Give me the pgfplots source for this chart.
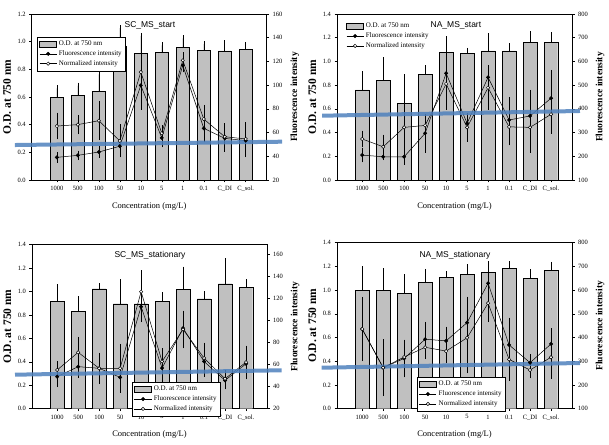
\documentclass[border=0pt]{standalone}
\usepackage{fontspec}
\setmainfont{Liberation Serif}
\newfontfamily\arial{Liberation Sans}
\usepackage{pgfplots}
\usepackage{pgfplotstable}
\pgfplotsset{compat=1.18}
\definecolor{barg}{RGB}{192,192,192}
\definecolor{blueln}{RGB}{79,129,189}

\pgfplotstableread{
x od ode fl fle nz nze
0 0.598 0.065 39.1 2.5 65.5 9.4
1 0.610 0.072 40.8 2.0 66.7 6
2 0.643 0.120 43.6 3.0 70.0 14.7
3 0.970 0.127 48.5 5 53.0 12
4 0.918 0.123 99.8 12.5 111.0 30
5 0.923 0.050 55.5 6 59.4 5
6 0.961 0.063 116.7 4 120.9 5
7 0.937 0.046 63.6 10 71.4 10
8 0.933 0.057 55.1 9.5 56.5 9.5
9 0.945 0.028 53.2 12 54.6 12
}\dataA

\pgfplotstableread{
x od ode fl fle nz nze
0 0.759 0.132 205 21 273 26
1 0.843 0.166 198 5 240 42
2 0.649 0.217 198 25 322 87
3 0.891 0.051 297 73 330 30
4 1.077 0.110 550 145 505 60
5 1.068 0.020 339 20 322 50
6 1.088 0.126 533 28 489 85
7 1.088 0.039 353 87 324 68
8 1.161 0.070 370 100 322 98
9 1.161 0.059 445 110 377 73
}\dataB

\pgfplotstableread{
x od ode fl fle nz nze
0 0.916 0.120 49.1 7.5 55.2 6
1 0.831 0.102 58.2 8 71.2 12
2 1.024 0.020 56.7 12 56.7 9
3 0.896 0.185 48.5 11 56.7 20
4 0.896 0.262 112.7 12 126.3 17
5 0.916 0.052 56.9 12 62.9 10
6 1.019 0.168 93.2 10 92.0 15
7 0.939 0.037 62.9 12 66.0 12
8 1.067 0.191 45.7 6 47.2 6
9 1.036 0.045 60.8 12 62.3 13
}\dataC

\pgfplotstableread{
x od ode fl fle nz nze
0 0.998 0.177 436 126 436 95
1 0.998 0.160 273 110 273 65
2 0.970 0.140 312 70 318 60
3 1.063 0.090 393 63 359 40
4 1.110 0.023 386 50 343 40
5 1.133 0.062 463 100 399 140
6 1.150 0.067 629 77 545 70
7 1.181 0.036 369 105 308 80
8 1.102 0.048 294 25 263 25
9 1.167 0.047 373 57 317 80
}\dataD

\pgfplotsset{
  base/.style={
    scale only axis, width=235pt,
    xmin=-1.2, xmax=10,
    tick align=outside, major tick length=2.5pt,
    tick style={black, line width=0.5pt},
    /pgf/number format/assume math mode=true,
    ticklabel style={font=\fontsize{6.5}{7}\selectfont},
    axis line style={line width=0.9pt},
  },
  leftax/.style={base,
    ymin=0,
    xtick={0,...,9},
    xticklabels={1000,500,100,50,10,5,1,0.1,C\_DI,C\_sol.},
    xtick pos=bottom, ytick pos=left,
    yticklabel style={/pgf/number format/.cd, fixed, fixed zerofill, precision=1},
    xlabel={Concentration (mg/L)},
    ylabel={O.D. at 750 nm},
    xlabel style={font=\fontsize{8.5}{9}\selectfont, at={(axis description cs:0.5,-0.158)}, anchor=center},
    ylabel style={font=\bfseries\fontsize{11.5}{12}\selectfont, at={(axis description cs:-0.105,0.5)}, anchor=center},
  },
  rightax/.style={base,
    axis y line*=right, axis x line=none, clip=false,
    ylabel={Fluorescence intensity},
    ylabel style={font=\bfseries\fontsize{9.5}{10}\selectfont, at={(axis description cs:1.12,0.5)}, anchor=center, rotate=0},
    legend cell align=left,
    legend style={font=\fontsize{7}{7}\selectfont, row sep=-0.5pt, inner sep=2pt, draw=black, line width=0.5pt},
  },
  barplot/.style={ybar, bar width=0.64, fill=barg, draw=black, line width=0.4pt,
    error bars/.cd, y dir=plus, y explicit,
    error bar style={black, line width=0.5pt},
    error mark options={black, mark size=3pt, line width=0.5pt}},
  flplot/.style={black, line width=0.5pt, mark=*, mark size=1.7pt,
    mark options={solid, fill=black},
    error bars/.cd, y dir=both, y explicit,
    error bar style={line width=0.5pt},
    error mark options={mark size=2.3pt, line width=0.5pt}},
  nzplot/.style={black, line width=0.5pt, mark=*, mark size=1.7pt,
    mark options={solid, fill=white},
    error bars/.cd, y dir=both, y explicit,
    error bar style={line width=0.5pt},
    error mark options={mark size=2.3pt, line width=0.5pt}},
  blueband/.style={blueln, line width=4pt, opacity=0.85, forget plot},
}

\begin{document}
\begin{tikzpicture}[x=1pt,y=1pt]
\path[use as bounding box] (0,0) rectangle (609,444);

% ---------- Panel 1 ----------
\begin{axis}[leftax, height=166pt, at={(31.7pt,264pt)}, anchor=south west,
  ymax=1.2, ytick={0,0.2,...,1.2}]
\addplot[barplot] table[x=x, y=od, y error=ode] {\dataA};
\end{axis}
\begin{axis}[rightax, height=166pt, at={(31.7pt,264pt)}, anchor=south west,
  ymin=20, ymax=160, ytick={20,40,...,160},
  legend style={at={(axis description cs:0.023,0.863)}, anchor=north west}]
\addlegendimage{area legend, fill=barg, draw=black}
\addplot[flplot] table[x=x, y=fl, y error=fle] {\dataA};
\addplot[nzplot] table[x=x, y=nz, y error=nze] {\dataA};
\legend{O.D. at 750 nm, Fluorescence intensity, Normalized intensity}
\addplot[blueband] coordinates {(-2.0,49.5) (10.73,52.3)};
\node[font=\arial\fontsize{8.5}{9}\selectfont] at (axis description cs:0.503,0.934) {SC\_MS\_start};
\end{axis}

% ---------- Panel 2 ----------
\begin{axis}[leftax, height=166pt, at={(337pt,264pt)}, anchor=south west,
  ymax=1.4, ytick={0,0.2,...,1.4}]
\addplot[barplot] table[x=x, y=od, y error=ode] {\dataB};
\end{axis}
\begin{axis}[rightax, height=166pt, at={(337pt,264pt)}, anchor=south west,
  ymin=100, ymax=800, ytick={100,200,...,800},
  legend style={at={(axis description cs:0.03,0.97)}, anchor=north west, draw=none, fill=none}]
\addlegendimage{area legend, fill=barg, draw=black}
\addplot[flplot] table[x=x, y=fl, y error=fle] {\dataB};
\addplot[nzplot] table[x=x, y=nz, y error=nze] {\dataB};
\legend{O.D. at 750 nm, Fluorescence intensity, Normalized intensity}
\addplot[blueband] coordinates {(-1.91,371.1) (10.38,391)};
\node[font=\arial\fontsize{8.5}{9}\selectfont] at (axis description cs:0.506,0.934) {NA\_MS\_start};
\end{axis}

% ---------- Panel 3 ----------
\begin{axis}[leftax, height=164pt, at={(32pt,35.3pt)}, anchor=south west,
  ymax=1.4, ytick={0,0.2,...,1.4}]
\addplot[barplot] table[x=x, y=od, y error=ode] {\dataC};
\end{axis}
\begin{axis}[rightax, height=164pt, at={(32pt,35.3pt)}, anchor=south west,
  ymin=20, ymax=169, ytick={20,40,...,160},
  legend style={at={(axis description cs:0.4255,0.163)}, anchor=north west}]
\addlegendimage{area legend, fill=barg, draw=black}
\addplot[flplot] table[x=x, y=fl, y error=fle] {\dataC};
\addplot[nzplot] table[x=x, y=nz, y error=nze] {\dataC};
\legend{O.D. at 750 nm, Fluorescence intensity, Normalized intensity}
\addplot[blueband] coordinates {(-2.01,50.9) (10.70,54.9)};
\node[font=\arial\fontsize{8.5}{9}\selectfont] at (axis description cs:0.502,0.935) {SC\_MS\_stationary};
\end{axis}

% ---------- Panel 4 ----------
\begin{axis}[leftax, height=166pt, at={(337pt,35.3pt)}, anchor=south west,
  ymax=1.4, ytick={0,0.2,...,1.4}]
\addplot[barplot] table[x=x, y=od, y error=ode] {\dataD};
\end{axis}
\begin{axis}[rightax, height=166pt, at={(337pt,35.3pt)}, anchor=south west,
  ymin=100, ymax=800, ytick={100,200,...,800},
  legend style={at={(axis description cs:0.34,0.191)}, anchor=north west}]
\addlegendimage{area legend, fill=barg, draw=black}
\addplot[flplot] table[x=x, y=fl, y error=fle] {\dataD};
\addplot[nzplot] table[x=x, y=nz, y error=nze] {\dataD};
\legend{O.D. at 750 nm, Fluorescence intensity, Normalized intensity}
\addplot[blueband] coordinates {(-1.93,272.9) (10.38,292.7)};
\node[font=\arial\fontsize{8.5}{9}\selectfont] at (axis description cs:0.502,0.924) {NA\_MS\_stationary};
\end{axis}
\end{tikzpicture}
\end{document}
